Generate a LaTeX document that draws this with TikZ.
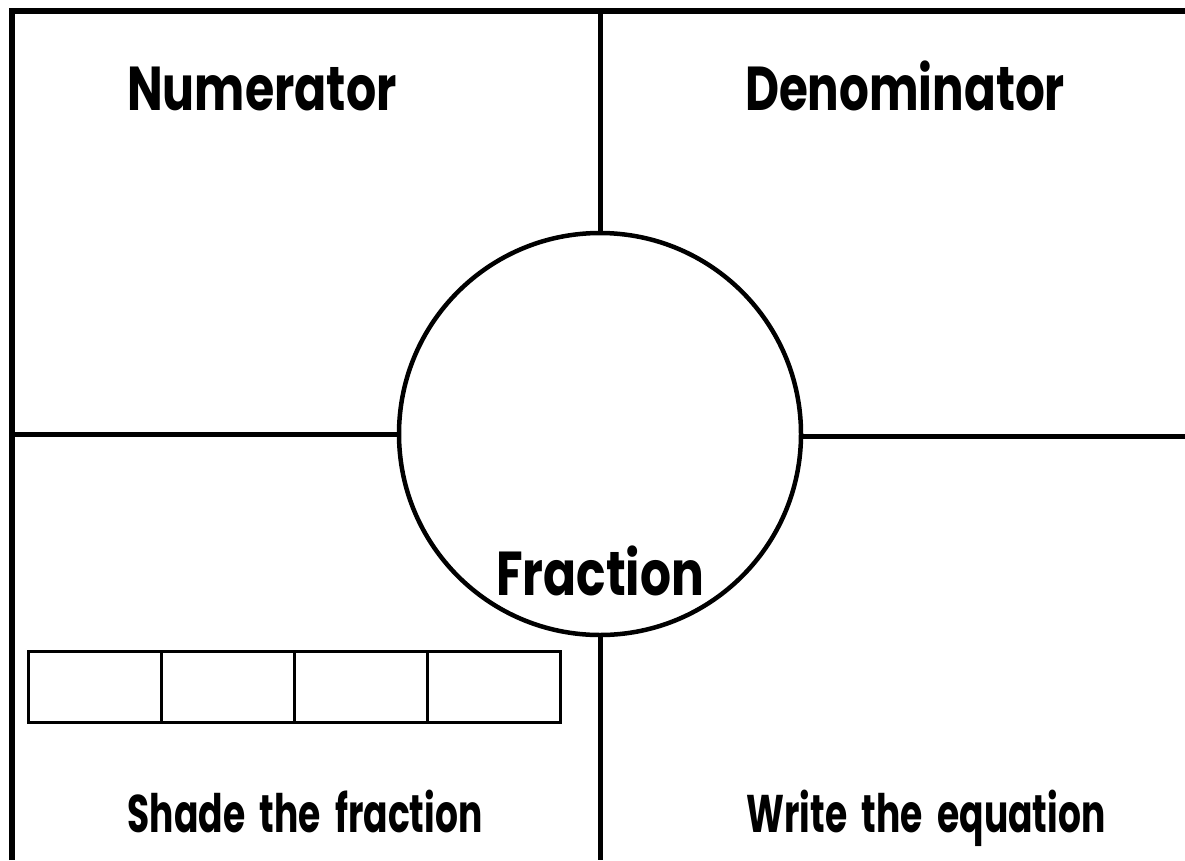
\documentclass[tikz,border=0pt]{standalone}
\usepackage{fontspec}
\setmainfont{Poppins}
\newcommand\widesp{\spaceskip=0.4em\relax}
\begin{document}
\begin{tikzpicture}[x=1pt,y=-1pt,
  frame/.style={line width=6pt},
  inner/.style={line width=5pt},
  cell/.style={draw,line width=3pt,minimum width=133pt,minimum height=71pt,inner sep=0pt,outer sep=0pt},
  label/.style={font=\fontsize{62}{62}\selectfont\bfseries,anchor=base,inner sep=0pt},
  small/.style={font=\fontsize{53}{53}\selectfont\bfseries}]
\useasboundingbox (0,0) rectangle (1185,860);
\fill[white] (0,0) rectangle (1185,860);
% outer frame
\coordinate (bl) at (12,860);
\coordinate (tl) at (12,11);
\coordinate (tr) at (1185,11);
\draw[frame] (bl) -- (tl) -- (tr);
% central circle
\node[circle,draw,line width=4.5pt,minimum size=402pt,inner sep=0pt] (c) at (600,434) {};
\coordinate (top) at (600,11);
\coordinate (bot) at (600,860);
\coordinate (lft) at (12,434);
\coordinate (rgt) at (1185,436);
\draw[inner] (c.north) -- (top);
\draw[inner] (c.south) -- (bot);
\draw[inner] (c.west) -- (lft);
\draw[inner] (c.east |- rgt) -- (rgt);
% labels
\node[label] (num) at (262,110) {\scalebox{0.765}[1]{Numerator}};
\node[label] (den) at (905,110) {\scalebox{0.755}[1]{Denominator}};
\node[label] (fr) at (600,595) {\scalebox{0.785}[1]{Fraction}};
\node[label,small] (sh) at (305,832) {\scalebox{0.68}[1]{\widesp Shade the fraction}};
\node[label,small] (we) at (926,832) {\scalebox{0.68}[1]{\widesp Write the equation}};
% fraction bar
\node[cell,anchor=north west] (b1) at (28,651) {};
\node[cell,anchor=west] (b2) at (b1.east) {};
\node[cell,anchor=west] (b3) at (b2.east) {};
\node[cell,anchor=west] (b4) at (b3.east) {};
\end{tikzpicture}
\end{document}
